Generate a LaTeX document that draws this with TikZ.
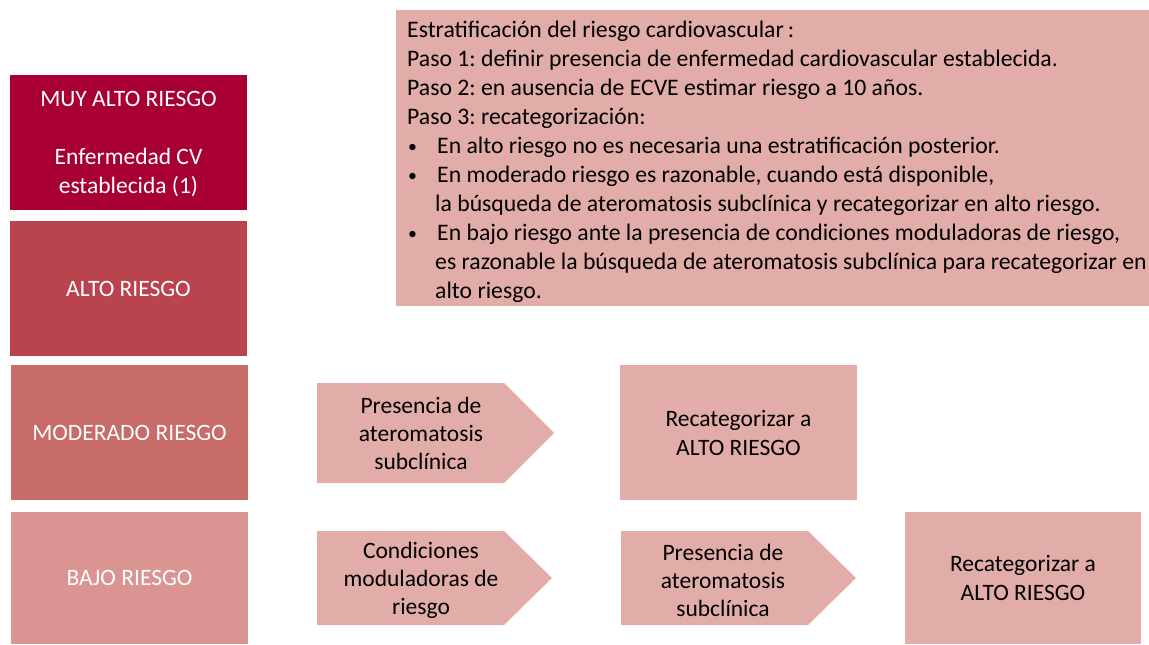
\documentclass[tikz,border=0pt]{standalone}
\usepackage{fontspec}
\setmainfont{Carlito}
\frenchspacing
\definecolor{muyc}{HTML}{A80032}
\definecolor{altoc}{HTML}{B9444D}
\definecolor{modc}{HTML}{C76C69}
\definecolor{bajoc}{HTML}{DA9592}
\definecolor{pinkc}{HTML}{E2ADA8}
\newcommand{\bul}{\makebox[30pt][l]{\hspace*{1pt}\raisebox{1.5pt}{\scalebox{0.75}{•}}}}
\tikzset{
  riskbox/.style={draw=none, minimum width=237pt, minimum height=135pt, inner sep=0pt,
    text=white, align=center, font=\fontsize{23.5}{29}\selectfont},
  recatbox/.style={fill=pinkc, minimum width=237pt, minimum height=135pt, inner sep=0pt,
    text=black, align=center, font=\fontsize{23.5}{29}\selectfont},
  arrowtext/.style={text=black, align=center, inner sep=0pt, font=\fontsize{23.5}{28}\selectfont},
  chev/.style={fill=pinkc},
}
\begin{document}
\begin{tikzpicture}[x=1pt,y=-1pt]
\useasboundingbox (0,0) rectangle (1149,645);
% left risk column
\node[riskbox, fill=muyc] (muy) at (128.5,142) {};
\node[text=white, align=center, inner sep=0pt, font=\fontsize{23.5}{29}\selectfont] (muytext) at (128.5,144) {MUY ALTO RIESGO\\[29pt]Enfermedad CV\\establecida (1)};
\node[riskbox, fill=altoc] (alto) at (128.5,288.5) {ALTO RIESGO};
\node[riskbox, fill=modc] (mod) at (129.5,432.5) {MODERADO RIESGO};
\node[riskbox, fill=bajoc, minimum height=132pt] (bajo) at (129.5,578) {BAJO RIESGO};
% info box
\node[fill=pinkc, minimum width=753pt, minimum height=296pt, inner sep=0pt, anchor=north west] (info) at (396,10) {};
\node[anchor=north west, align=left, inner sep=0pt, text=black, font=\fontsize{23.7}{29}\selectfont] (infotext) at (407,21)
{Estratificación del riesgo cardiovascular\,:\\
Paso 1: definir presencia de enfermedad cardiovascular establecida.\\
Paso 2: en ausencia de ECVE estimar riesgo a 10 años.\\
Paso 3: recategorización:\\
\bul En alto riesgo no es necesaria una estratificación posterior.\\
\bul En moderado riesgo es razonable, cuando está disponible,\\
\hspace*{28pt}la búsqueda de ateromatosis subclínica y recategorizar en alto riesgo.\\
\bul En bajo riesgo ante la presencia de condiciones moduladoras de riesgo,\\
\hspace*{28pt}es razonable la búsqueda de ateromatosis subclínica para recategorizar en\\
\hspace*{28pt}alto riesgo.};
% moderate row
\fill[chev] (317,383) -- (504,383) -- (554,433) -- (504,483) -- (317,483) -- cycle;
\node[arrowtext] (a1) at (421,433) {Presencia de\\ateromatosis\\subclínica};
\node[recatbox] (r1) at (738.5,432.5) {Recategorizar a\\ALTO RIESGO};
% low row
\fill[chev] (317,531) -- (504,531) -- (552,578) -- (504,625) -- (317,625) -- cycle;
\node[arrowtext] (a2) at (421,580) {Condiciones\\moduladoras de\\riesgo};
\fill[chev] (621,531) -- (808,531) -- (856,578) -- (808,625) -- (621,625) -- cycle;
\node[arrowtext] (a3) at (723,580) {Presencia de\\ateromatosis\\subclínica};
\node[recatbox, minimum width=236pt, minimum height=132pt] (r2) at (1023,578) {Recategorizar a\\ALTO RIESGO};
\end{tikzpicture}
\end{document}
